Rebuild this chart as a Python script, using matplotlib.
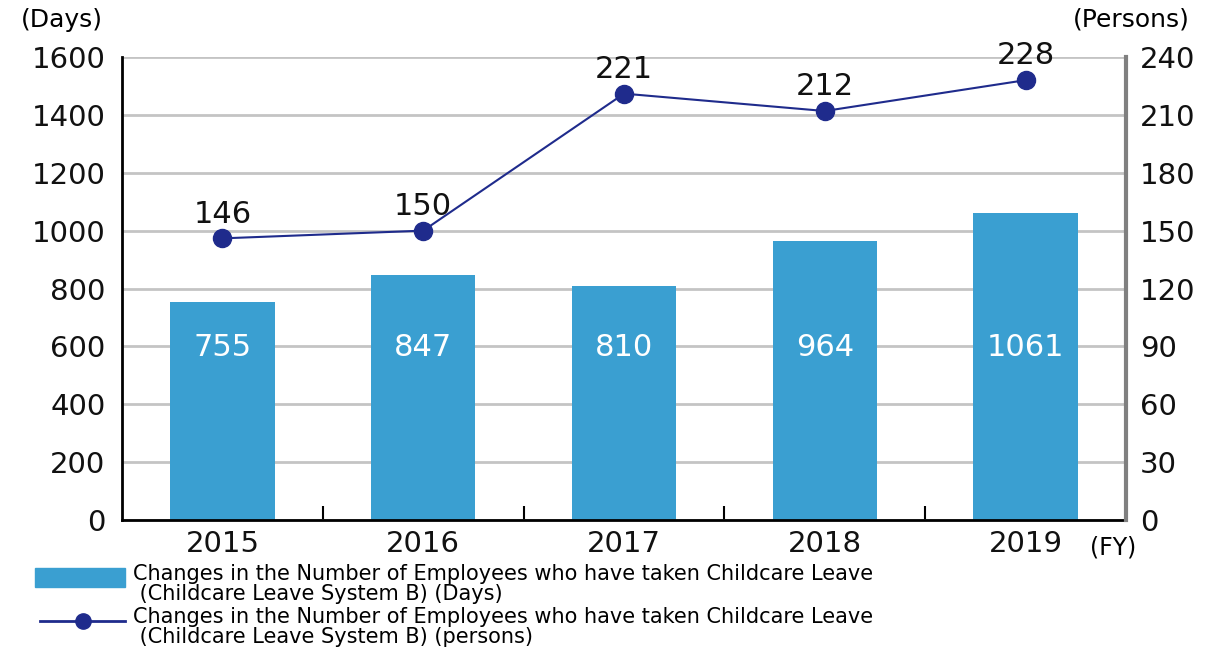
import matplotlib
matplotlib.use("Agg")
import matplotlib.pyplot as plt
from matplotlib.patches import Rectangle
from matplotlib.lines import Line2D

# === data ===
years = ["2015", "2016", "2017", "2018", "2019"]
days = [755, 847, 810, 964, 1061]
persons = [146, 150, 221, 212, 228]
days_ticks = [0, 200, 400, 600, 800, 1000, 1200, 1400, 1600]
persons_ticks = [0, 30, 60, 90, 120, 150, 180, 210, 240]
legend_days = ("Changes in the Number of Employees who have taken Childcare Leave\n"
               " (Childcare Leave System B) (Days)")
legend_persons = ("Changes in the Number of Employees who have taken Childcare Leave\n"
                  " (Childcare Leave System B) (persons)")

bar_color = "#3a9fd1"
line_color = "#1f2b8c"
grid_color = "#c4c4c4"

plt.rcParams["font.family"] = "DejaVu Sans"

fig = plt.figure(figsize=(12.23, 6.55), dpi=100)
ax = fig.add_axes([0.0998, 0.206, 0.8209, 0.707])
ax2 = ax.twinx()

x = list(range(len(years)))

# bars (left axis)
ax.bar(x, days, width=0.52, color=bar_color, zorder=2)
for xi, v in zip(x, days):
    ax.text(xi, 595, str(v), ha="center", va="center", color="white",
            fontsize=22, zorder=3)

ax.set_ylim(0, 1600)
ax.set_xlim(-0.5, 4.5)
ax.set_yticks(days_ticks)
ax.set_yticklabels([str(t) for t in days_ticks], fontsize=21)
ax.yaxis.grid(True, color=grid_color, linewidth=2, zorder=0)
ax.set_axisbelow(True)
ax.tick_params(axis="y", length=0, pad=12, labelcolor="#111111")

ax.set_xticks(x)
ax.set_xticklabels(years, fontsize=21)
ax.set_xticks([0.5, 1.5, 2.5, 3.5], minor=True)
ax.tick_params(axis="x", which="major", length=0, pad=7, labelcolor="#111111")
ax.tick_params(axis="x", which="minor", direction="in", length=10,
               width=1.5, color="black")

ax.spines["top"].set_visible(False)
ax2.spines["top"].set_visible(False)
ax.spines["left"].set_linewidth(2)
ax.spines["bottom"].set_linewidth(2)
ax2.spines["left"].set_visible(False)
ax2.spines["bottom"].set_visible(False)
ax2.spines["right"].set_color("#808080")
ax2.spines["right"].set_linewidth(3)

# line (right axis)
ax2.plot(x, persons, color=line_color, linewidth=1.5, marker="o",
         markersize=13, zorder=4)
for xi, v in zip(x, persons):
    ax2.annotate(str(v), (xi, v), xytext=(0, 7), textcoords="offset points",
                 ha="center", va="bottom", fontsize=22, color="#111111")
ax2.set_ylim(0, 240)
ax2.set_yticks(persons_ticks)
ax2.set_yticklabels([str(t) for t in persons_ticks], fontsize=21)
ax2.tick_params(axis="y", length=0, pad=10, labelcolor="#111111")

# unit labels
fig.text(62 / 1223, 1 - 20 / 655, "(Days)", ha="center", va="center", fontsize=18)
fig.text(1131 / 1223, 1 - 20 / 655, "(Persons)", ha="center", va="center", fontsize=18)
fig.text(1090 / 1223, 1 - 548 / 655, "(FY)", ha="left", va="center", fontsize=17)

# legend drawn by hand
fig.patches.append(Rectangle((35 / 1223, 1 - 587 / 655), 90 / 1223, 19 / 655,
                             transform=fig.transFigure, color=bar_color))
fig.lines.append(Line2D([40 / 1223, 125 / 1223], [1 - 621 / 655] * 2,
                        transform=fig.transFigure, color=line_color, linewidth=2))
fig.lines.append(Line2D([83 / 1223], [1 - 621 / 655], transform=fig.transFigure,
                        color=line_color, marker="o", markersize=11))
fig.text(133 / 1223, 1 - 564 / 655, legend_days, ha="left", va="top",
         fontsize=15, linespacing=0.98)
fig.text(133 / 1223, 1 - 607 / 655, legend_persons, ha="left", va="top",
         fontsize=15, linespacing=0.98)

fig.savefig("out.png", dpi=100)
